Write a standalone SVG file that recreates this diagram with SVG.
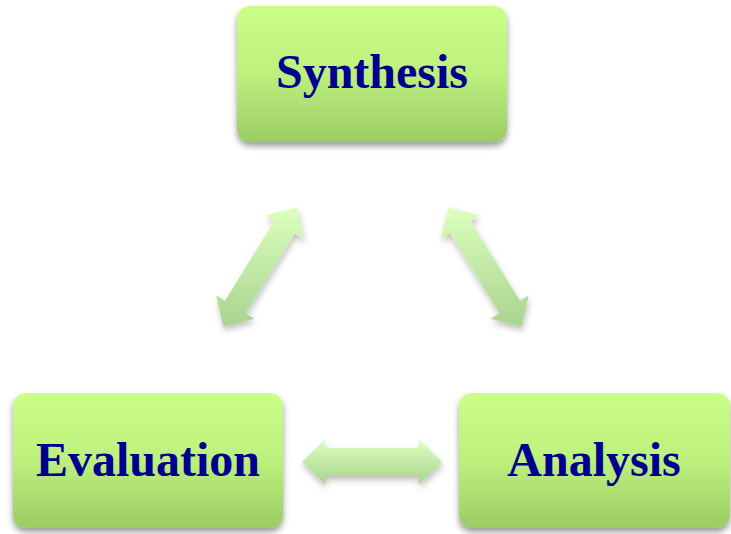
<svg xmlns="http://www.w3.org/2000/svg" width="731" height="534" viewBox="0 0 731 534">
  <defs>
    <linearGradient id="boxGrad" x1="0" y1="0" x2="0" y2="1">
      <stop offset="0" stop-color="#cbff89"/>
      <stop offset="0.5" stop-color="#bdf07c"/>
      <stop offset="1" stop-color="#9bcc66"/>
    </linearGradient>
    <linearGradient id="arrowGrad" x1="0" y1="0" x2="0" y2="1">
      <stop offset="0" stop-color="#dcffbd"/>
      <stop offset="1" stop-color="#a9d38f"/>
    </linearGradient>
    <filter id="shadow" x="-20%" y="-20%" width="140%" height="150%">
      <feDropShadow dx="0" dy="4" stdDeviation="3" flood-color="#000" flood-opacity="0.4"/>
    </filter>
    <filter id="ashadow" x="-20%" y="-20%" width="140%" height="150%">
      <feDropShadow dx="1" dy="4" stdDeviation="3" flood-color="#000" flood-opacity="0.25"/>
    </filter>
  </defs>
  <style>
    .box { fill: url(#boxGrad); filter: url(#shadow); }
    .label { font-family: "Liberation Serif", "Times New Roman", serif; font-weight: bold; font-size: 48px; fill: #00008e; text-anchor: middle; }
    .arrow { fill: url(#arrowGrad); filter: url(#ashadow); }
  </style>
  <g id="connectors">
    <polygon class="arrow" points="296.7,207.4 303.8,238.8 294.9,233.3 245.5,313.3 254.5,318.8 223.3,326.6 216.2,295.2 225.1,300.7 274.5,220.7 265.5,215.2"/>
    <polygon class="arrow" points="448.3,207.4 479.5,215.2 470.5,220.7 519.9,300.7 528.8,295.2 521.7,326.6 490.5,318.8 499.5,313.3 450.1,233.3 441.2,238.8"/>
    <polygon class="arrow" points="302,462 325,439.5 325,448 419,448 419,439.5 442,462 419,484.5 419,476 325,476 325,484.5"/>
  </g>
  <g id="synthesis">
    <rect class="box" x="237" y="6" width="270" height="136" rx="13"/>
    <text class="label" x="372" y="88">Synthesis</text>
  </g>
  <g id="evaluation">
    <rect class="box" x="13" y="393" width="270" height="135" rx="13"/>
    <text class="label" x="148" y="476">Evaluation</text>
  </g>
  <g id="analysis">
    <rect class="box" x="459" y="393" width="271" height="135" rx="13"/>
    <text class="label" x="594" y="476">Analysis</text>
  </g>
</svg>
